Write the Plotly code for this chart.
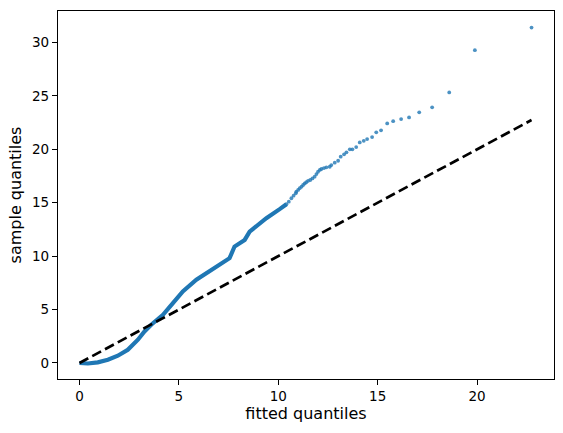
import plotly.graph_objects as go

# dense part of the Q-Q curve (reads as a thick solid band)
dense_x = [0.0, 0.42, 0.92, 1.43, 1.93, 2.43, 2.94, 3.27, 3.61, 4.03, 4.2, 4.7, 5.2,
           5.88, 6.55, 7.22, 7.55, 7.8, 8.31, 8.56, 9.4, 10.07, 10.41]
dense_y = [0.0, -0.05, 0.06, 0.31, 0.68, 1.24, 2.18, 2.95, 3.58, 4.2, 4.51, 5.6, 6.7,
           7.79, 8.56, 9.35, 9.81, 10.9, 11.52, 12.3, 13.55, 14.4, 14.86]

# sparse upper tail, individual points
tail_x = [10.41, 10.53, 10.66, 10.77, 10.88, 10.91, 11.0, 11.08, 11.17, 11.25, 11.33,
          11.41, 11.5, 11.61, 11.72, 11.83, 11.92, 12.0, 12.09, 12.17, 12.3, 12.42,
          12.59, 12.67, 12.84, 13.01, 13.14, 13.31, 13.43, 13.6, 13.73, 13.92, 14.1,
          14.3, 14.47, 14.72, 14.93, 15.17, 15.48, 15.78, 16.18, 16.58, 17.09, 17.74,
          18.6, 19.89, 22.74]
tail_y = [14.86, 15.1, 15.42, 15.66, 15.89, 16.04, 16.2, 16.36, 16.5, 16.66, 16.8,
          16.92, 17.05, 17.13, 17.28, 17.44, 17.68, 17.9, 18.07, 18.16, 18.25, 18.32,
          18.37, 18.53, 18.75, 18.93, 19.31, 19.53, 19.72, 20.0, 20.0, 20.21, 20.65,
          20.8, 20.96, 21.15, 21.59, 21.78, 22.43, 22.64, 22.83, 22.99, 23.46, 23.93,
          25.33, 29.28, 31.4]

# reference line y = x
ref_x = [0.0, 22.74]
ref_y = [0.0, 22.74]

blue = "rgb(31,119,180)"

fig = go.Figure()
fig.add_trace(go.Scatter(x=dense_x, y=dense_y, mode="lines",
                         line=dict(color=blue, width=4.2), showlegend=False))
fig.add_trace(go.Scatter(x=tail_x, y=tail_y, mode="markers",
                         marker=dict(color="rgba(31,119,180,0.8)", size=3.8),
                         showlegend=False))
fig.add_trace(go.Scatter(x=ref_x, y=ref_y, mode="lines",
                         line=dict(color="black", width=2.7, dash="10px,4.5px"),
                         showlegend=False))

axis_style = dict(
    showgrid=False, zeroline=False, showline=True, mirror=True, automargin=False,
    linecolor="black", linewidth=1.2,
    ticks="outside", ticklen=5, tickwidth=1.1, tickcolor="black", dtick=5,
    tickfont=dict(family="DejaVu Sans", size=13.5, color="black"),
)

fig.update_layout(
    width=563, height=433,
    margin=dict(l=58, r=9, t=11, b=54),
    paper_bgcolor="white", plot_bgcolor="white",
    font=dict(family="DejaVu Sans", size=13.5, color="black"),
    xaxis=dict(range=[-1.08, 23.87], tick0=0,
               title=dict(text="fitted quantiles", standoff=4), **axis_style),
    yaxis=dict(range=[-1.5, 32.95], tick0=0,
               title=dict(text="sample quantiles", standoff=6), **axis_style),
)

# page body has a default 8px margin; drop it so the figure sits at the corner
fig.write_html("out.html",
               config={"displayModeBar": False},
               post_script="document.body.style.margin='0';")
